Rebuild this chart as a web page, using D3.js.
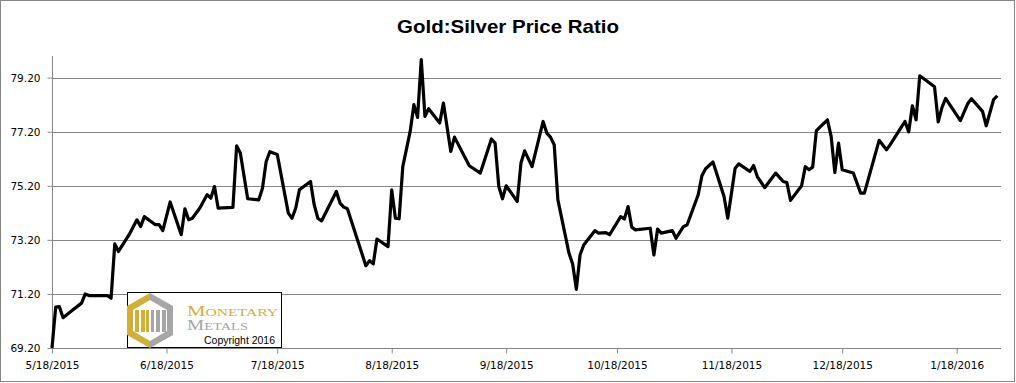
<!DOCTYPE html>
<html>
<head>
<meta charset="utf-8">
<script src="https://cdn.jsdelivr.net/npm/d3@7"></script>
<style>
  html, body { margin: 0; padding: 0; background: #fff; }
  svg { display: block; }
</style>
</head>
<body>
<svg id="chart" width="1016" height="383"></svg>
<script>
const title = "Gold:Silver Price Ratio";

const dates = [
  "2015-05-18","2015-05-19","2015-05-20","2015-05-21","2015-05-23","2015-05-26","2015-05-27","2015-05-28",
  "2015-06-02","2015-06-03","2015-06-04","2015-06-05","2015-06-08","2015-06-10","2015-06-11","2015-06-12",
  "2015-06-15","2015-06-16","2015-06-17","2015-06-19","2015-06-22","2015-06-23","2015-06-24","2015-06-25",
  "2015-06-27","2015-06-29","2015-06-30","2015-07-01","2015-07-02","2015-07-06","2015-07-07","2015-07-08",
  "2015-07-10","2015-07-13","2015-07-14","2015-07-15","2015-07-16","2015-07-18","2015-07-21","2015-07-22",
  "2015-07-23","2015-07-24","2015-07-27","2015-07-28","2015-07-29","2015-07-30","2015-08-03","2015-08-04",
  "2015-08-05","2015-08-06","2015-08-11","2015-08-12","2015-08-13","2015-08-14","2015-08-17","2015-08-18",
  "2015-08-19","2015-08-20","2015-08-21","2015-08-23","2015-08-24","2015-08-25","2015-08-26","2015-08-27",
  "2015-08-28","2015-08-31","2015-09-01","2015-09-03","2015-09-04","2015-09-08","2015-09-11","2015-09-14",
  "2015-09-15","2015-09-16","2015-09-17","2015-09-18","2015-09-21","2015-09-22","2015-09-23","2015-09-25",
  "2015-09-28","2015-09-29","2015-09-30","2015-10-01","2015-10-02","2015-10-05","2015-10-06","2015-10-07",
  "2015-10-08","2015-10-09","2015-10-12","2015-10-13","2015-10-15","2015-10-16","2015-10-19","2015-10-20",
  "2015-10-21","2015-10-22","2015-10-23","2015-10-27","2015-10-28","2015-10-29","2015-10-30","2015-11-02",
  "2015-11-03","2015-11-05","2015-11-06","2015-11-09","2015-11-10","2015-11-11","2015-11-13","2015-11-16",
  "2015-11-17","2015-11-19","2015-11-20","2015-11-23","2015-11-24","2015-11-25","2015-11-27","2015-11-30",
  "2015-12-02","2015-12-03","2015-12-04","2015-12-07","2015-12-08","2015-12-09","2015-12-10","2015-12-11",
  "2015-12-14","2015-12-15","2015-12-16","2015-12-17","2015-12-18","2015-12-21","2015-12-23","2015-12-24",
  "2015-12-28","2015-12-30","2015-12-31","2016-01-04","2016-01-05","2016-01-06","2016-01-07","2016-01-08",
  "2016-01-12","2016-01-13","2016-01-14","2016-01-15","2016-01-19","2016-01-21","2016-01-22","2016-01-25",
  "2016-01-26","2016-01-28","2016-01-29"
];

const ratio = [
  69.20,70.71,70.73,70.32,70.54,70.86,71.20,71.14,
  71.14,71.04,73.05,72.77,73.42,73.94,73.69,74.06,
  73.76,73.76,73.54,74.60,73.39,74.35,73.94,74.00,
  74.37,74.87,74.74,75.17,74.37,74.40,76.68,76.41,
  74.72,74.68,75.11,76.10,76.46,76.36,74.19,74.00,
  74.37,75.05,75.36,74.50,74.00,73.90,74.99,74.56,
  74.41,74.35,72.24,72.43,72.31,73.23,72.95,75.05,
  74.00,73.98,75.91,77.21,78.20,77.73,79.87,77.77,
  78.05,77.52,78.26,76.47,77.00,75.94,75.67,76.93,
  76.78,75.17,74.72,75.20,74.62,76.04,76.49,75.91,
  77.58,77.15,77.00,76.72,74.68,72.71,72.31,71.37,
  72.64,73.01,73.54,73.45,73.47,73.39,74.06,73.97,
  74.43,73.67,73.57,73.63,72.64,73.60,73.45,73.54,
  73.26,73.69,73.76,74.87,75.57,75.83,76.08,74.80,
  74.00,75.85,76.01,75.73,75.95,75.54,75.13,75.67,
  75.36,75.32,74.66,75.20,75.91,75.79,75.89,77.24,
  77.64,77.03,75.69,76.78,75.79,75.67,74.93,74.93,
  76.88,76.53,76.72,77.58,77.19,78.16,77.64,79.27,
  78.86,77.56,78.09,78.43,77.61,78.24,78.42,77.95,
  77.42,78.39,78.53
];

const yTicks = [69.2, 71.2, 73.2, 75.2, 77.2, 79.2];
const xTickLabels = ["2015-05-18","2015-06-18","2015-07-18","2015-08-18","2015-09-18",
                     "2015-10-18","2015-11-18","2015-12-18","2016-01-18"];
const xDomain = ["2015-05-18","2016-01-30"];
const yDomain = [69.2, 80.0];

const logoWords = ["MONETARY", "METALS", "Copyright 2016"];

// ---- drawing ----
const parse = d3.timeParse("%Y-%m-%d");
const data = dates.map((d, i) => ({ date: parse(d), value: ratio[i] }));

const svg = d3.select("#chart");
const L = 52, R = 1001, T = 56, B = 348;

svg.append("rect")
  .attr("x", 0.5).attr("y", 0.5).attr("width", 1014).attr("height", 381)
  .attr("fill", "#fff").attr("stroke", "#868686");

const x = d3.scaleTime().domain(xDomain.map(parse)).range([L, R]);
const y = d3.scaleLinear().domain(yDomain).range([B, T]);

// gridlines
svg.append("g")
  .selectAll("line")
  .data(yTicks.slice(1))
  .join("line")
  .attr("x1", L).attr("x2", R)
  .attr("y1", d => Math.round(y(d)) + 0.5)
  .attr("y2", d => Math.round(y(d)) + 0.5)
  .attr("stroke", "#868686").attr("stroke-width", 1);

// y axis
const yAxis = svg.append("g")
  .attr("transform", `translate(${L + 0.5},0)`)
  .call(d3.axisLeft(y).tickValues(yTicks).tickFormat(d3.format(".2f")).tickSize(5).tickSizeOuter(0).tickPadding(7));
yAxis.select(".domain").attr("stroke", "#868686").attr("d", `M0,${T}V${B}`);
yAxis.selectAll(".tick line").attr("stroke", "#868686");
yAxis.selectAll(".tick text")
  .attr("font-family", "DejaVu Sans, Verdana, sans-serif")
  .attr("font-size", "10.5px").attr("fill", "#000");

// x axis
const fmtX = d => `${d.getMonth() + 1}/${d.getDate()}/${d.getFullYear()}`;
const xAxis = svg.append("g")
  .attr("transform", `translate(0,${B + 0.5})`)
  .call(d3.axisBottom(x).tickValues(xTickLabels.map(parse)).tickFormat(fmtX).tickSize(5).tickSizeOuter(0).tickPadding(8));
xAxis.select(".domain").attr("stroke", "#868686").attr("d", `M${L},0H${R}`);
xAxis.selectAll(".tick line").attr("stroke", "#868686");
xAxis.selectAll(".tick text")
  .attr("font-family", "DejaVu Sans, Verdana, sans-serif")
  .attr("font-size", "10.5px").attr("fill", "#000");

// line
const line = d3.line().x(d => x(d.date)).y(d => y(d.value));
svg.append("path")
  .datum(data)
  .attr("d", line)
  .attr("fill", "none")
  .attr("stroke", "#000")
  .attr("stroke-width", 3.2)
  .attr("stroke-linejoin", "round")
  .attr("stroke-linecap", "butt");

// title
svg.append("text")
  .attr("x", 508).attr("y", 33)
  .attr("text-anchor", "middle")
  .attr("font-family", "Liberation Sans Narrow, Liberation Sans, Arial, sans-serif")
  .attr("font-weight", "bold")
  .attr("font-size", "19px")
  .attr("textLength", 222).attr("lengthAdjust", "spacingAndGlyphs")
  .attr("fill", "#000")
  .text(title);

// logo box
const gold = "#D4AF37", grey = "#A6A6A6";
const lg = svg.append("g").attr("transform", "translate(127,292)");
lg.append("rect").attr("x", 0.5).attr("y", 0.5).attr("width", 154).attr("height", 55)
  .attr("fill", "#fff").attr("stroke", "#000").attr("stroke-width", 1);
// hexagon halves
lg.append("path").attr("d", "M23,1 L0,14 L0,43 L23,56 Z").attr("fill", gold);
lg.append("path").attr("d", "M23,1 L46,14 L46,43 L23,56 Z").attr("fill", grey);
// inner white hex
lg.append("path").attr("d", "M23,8 L6,18 L6,39 L23,49 L40,39 L40,18 Z").attr("fill", "#fff");
// pillars
[[8,4,gold],[14,4,gold],[19,3,gold]].forEach(([px,w,c]) =>
  lg.append("rect").attr("x", px).attr("y", 18).attr("width", w).attr("height", 22).attr("fill", c));
[[24,3,grey],[29,4,grey],[35,4,grey]].forEach(([px,w,c]) =>
  lg.append("rect").attr("x", px).attr("y", 18).attr("width", w).attr("height", 22).attr("fill", c));

function logoWord(str, yPos, len, color) {
  const t = lg.append("text")
    .attr("x", 60).attr("y", yPos)
    .attr("font-family", "Liberation Serif, Times New Roman, serif")
    .attr("textLength", len).attr("lengthAdjust", "spacingAndGlyphs")
    .attr("fill", color);
  t.append("tspan").attr("font-size", "14px").text(str.slice(0, 1));
  t.append("tspan").attr("font-size", "10.5px").text(str.slice(1));
}
logoWord(logoWords[0], 24, 91, gold);
logoWord(logoWords[1], 38, 61, grey);

lg.append("text")
  .attr("x", 77).attr("y", 52)
  .attr("font-family", "Liberation Sans, Arial, sans-serif")
  .attr("font-size", "10.5px")
  .attr("textLength", 71).attr("lengthAdjust", "spacingAndGlyphs")
  .attr("fill", "#000")
  .text(logoWords[2]);
</script>
</body>
</html>
